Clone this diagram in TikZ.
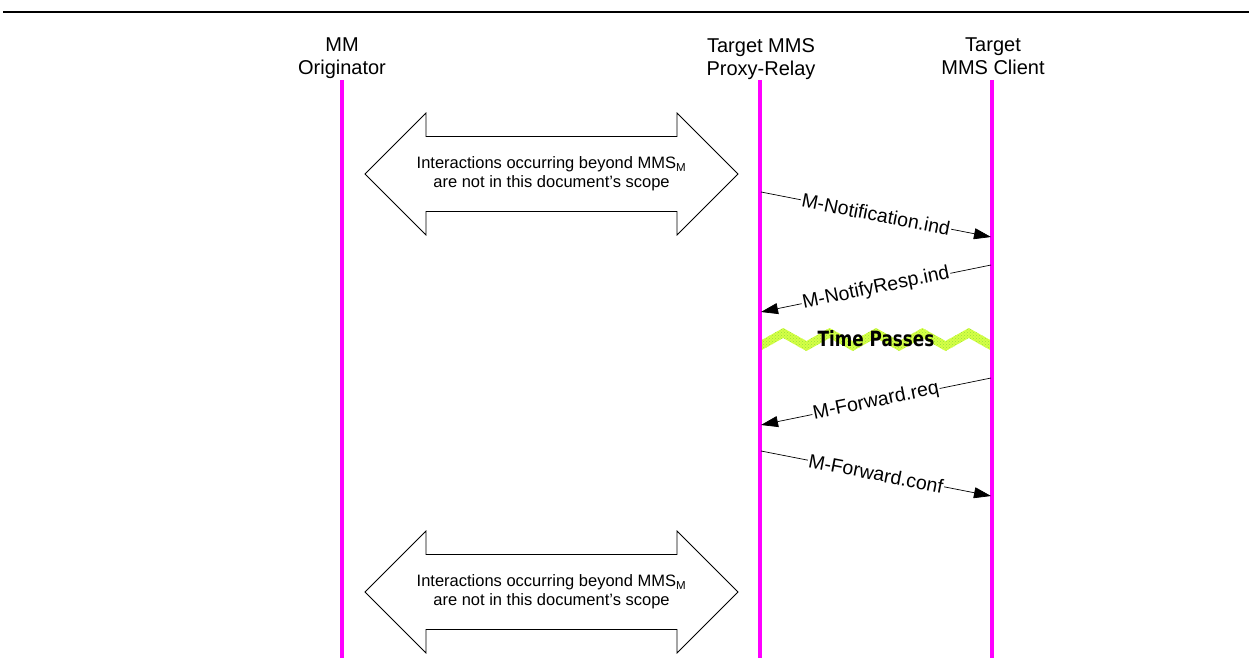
\documentclass[tikz,border=0pt]{standalone}
\usepackage{fontspec}
\setmainfont{Liberation Sans}
\newfontfamily\timefont{DejaVu Sans}
\usetikzlibrary{arrows.meta,patterns}
\definecolor{lifemag}{RGB}{255,0,255}
\definecolor{timegreen}{RGB}{214,255,70}
\definecolor{timedots}{RGB}{150,225,60}
\tikzstyle{lifeline} = [draw=lifemag, line width=3.2pt]
\tikzstyle{actor} = [align=center, inner sep=0pt, anchor=north,
font=\fontsize{20}{23}\selectfont]
\tikzstyle{line} = [draw, line width=0.7pt, -{Triangle[length=17pt,width=11pt]}]
\tikzstyle{msg} = [sloped, midway, fill=white, inner sep=1pt,
font=\fontsize{19.5}{21}\selectfont]
\tikzstyle{beyond} = [draw, line width=0.8pt, line join=miter]
\tikzstyle{note} = [align=center, inner sep=0pt, font=\fontsize{16.5}{19}\selectfont]
\tikzstyle{timeband} = [fill=timegreen, postaction={pattern=crosshatch dots, pattern color=timedots}]

\begin{document}
\begin{tikzpicture}[x=1pt, y=-1pt]
	\useasboundingbox (0,0) rectangle (1249,658);
	\draw[line width=2pt] (3,12) -- (1249,12);
	
	% Place nodes
	\node [actor] (origA) at (342,38) {MM\\Originator};
	\node [actor] (proxyA) at (761,38) {Target MMS\\Proxy-Relay};
	\node [actor] (clientA) at (993,38) {Target\\MMS Client};
	
	% Time passes band
	\fill[timeband] (760,341) \foreach \k in {0,...,4} { -- ({783.2+46.4*\k},328) -- ({806.4+46.4*\k},341) }
		-- (992,351) \foreach \k in {4,3,...,0} { -- ({783.2+46.4*\k},338) -- ({760+46.4*\k},351) } -- cycle;
	\node [font=\timefont\bfseries\fontsize{21}{22}\selectfont, inner sep=0pt] (timeA) at (876,339) {\scalebox{0.8}[1]{Time Passes}};
	
	% Lifelines
	\coordinate (origTop) at (342,80);
	\coordinate (origBot) at (342,658);
	\coordinate (proxyTop) at (760,80);
	\coordinate (proxyBot) at (760,658);
	\coordinate (clientTop) at (992,80);
	\coordinate (clientBot) at (992,658);
	\path [lifeline] (origTop) -- (origBot);
	\path [lifeline] (proxyTop) -- (proxyBot);
	\path [lifeline] (clientTop) -- (clientBot);
	
	% Out of scope
	\coordinate (outA) at (551.5,174);
	\coordinate (outB) at (551.5,592);
	\draw [beyond] (outA) ++(-186.5,0) -- ++(61,-61) -- ++(0,23.5) -- ++(251,0) -- ++(0,-23.5) -- ++(61,61)
		-- ++(-61,61) -- ++(0,-23.5) -- ++(-251,0) -- ++(0,23.5) -- cycle;
	\draw [beyond] (outB) ++(-186.5,0) -- ++(61,-61) -- ++(0,23.5) -- ++(251,0) -- ++(0,-23.5) -- ++(61,61)
		-- ++(-61,61) -- ++(0,-23.5) -- ++(-251,0) -- ++(0,23.5) -- cycle;
	\node [note] (outAtext) at (outA) {Interactions occurring beyond MMS\textsubscript{M}\\are not in this document's scope};
	\node [note] (outBtext) at (outB) {Interactions occurring beyond MMS\textsubscript{M}\\are not in this document's scope};
	
	% Messages
	\coordinate (p1) at (761,192);
	\coordinate (c1) at (991,237);
	\coordinate (c2) at (991,265);
	\coordinate (p2) at (761,312);
	\coordinate (c3) at (991,378);
	\coordinate (p3) at (761,425);
	\coordinate (p4) at (761,451);
	\coordinate (c4) at (991,496);
	\path [line] (p1) -- node [msg]{M-Notification.ind} (c1);
	\path [line] (c2) -- node [msg]{M-NotifyResp.ind} (p2);
	\path [line] (c3) -- node [msg]{M-Forward.req} (p3);
	\path [line] (p4) -- node [msg]{M-Forward.conf} (c4);
	
\end{tikzpicture}
\end{document}
